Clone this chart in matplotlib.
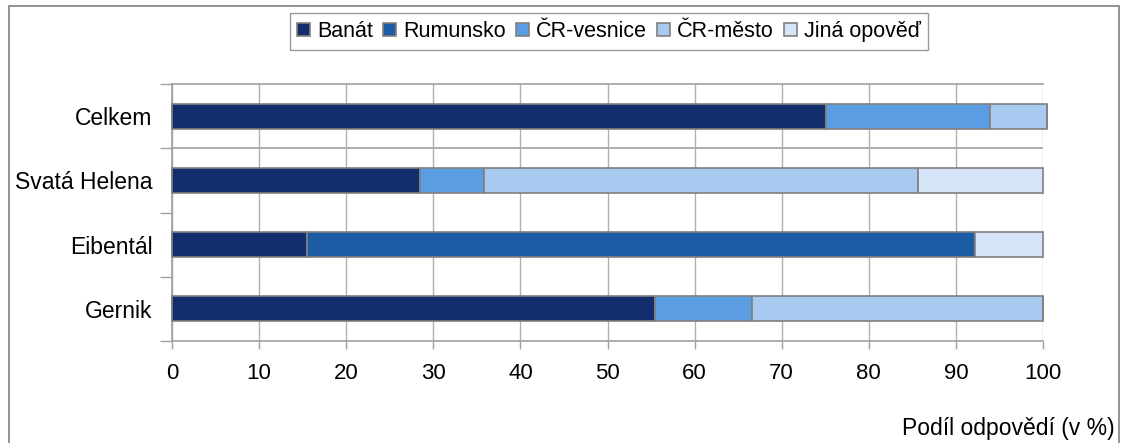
import matplotlib
matplotlib.use("Agg")
import matplotlib.pyplot as plt
from matplotlib.patches import Rectangle
import numpy as np

plt.rcParams['font.family'] = ['Liberation Sans', 'DejaVu Sans']

categories = ["Gernik", "Eibentál", "Svatá Helena", "Celkem"]
series = ["Banát", "Rumunsko", "ČR-vesnice", "ČR-město", "Jiná opověď"]
banat = [55.5, 15.5, 28.5, 75.1]
rumunsko = [0.0, 76.7, 0.0, 0.0]
cr_vesnice = [11.1, 0.0, 7.3, 18.8]
cr_mesto = [33.4, 0.0, 49.8, 6.6]
jina = [0.0, 7.8, 14.4, 0.0]
xticks = [0, 10, 20, 30, 40, 50, 60, 70, 80, 90, 100]
colors = ["#132d6d", "#1c5ca4", "#5b9de3", "#a8c9f0", "#d6e5f8"]

W, H = 1123, 443
fig = plt.figure(figsize=(W / 100, H / 100), dpi=100)
ax = fig.add_axes([172 / W, 1 - 341 / H, (1043 - 172) / W, (341 - 84) / H])

y = np.arange(len(categories))
left = np.zeros(len(categories))
data = [banat, rumunsko, cr_vesnice, cr_mesto, jina]
for name, vals, c in zip(series, data, colors):
    vals = np.array(vals)
    ax.barh(y, vals, left=left, height=0.39, color=c, edgecolor="#808080",
            linewidth=1.2, label=name, zorder=3, clip_on=False)
    left += vals

ax.set_xlim(0, 100)
ax.set_ylim(-0.5, len(categories) - 0.5)
ax.set_xticks(xticks)
ax.set_xticklabels([str(t) for t in xticks], fontsize=16)
ax.set_yticks(y)
ax.set_yticklabels(categories, fontsize=16.5)
ax.tick_params(axis='y', length=0, pad=14)
ax.set_yticks(np.arange(-0.5, len(categories)), minor=True)
ax.tick_params(axis='y', which='minor', length=9, color="#a0a0a0", width=1)
ax.tick_params(axis='x', length=6, color="#a0a0a0", width=1, pad=10)
ax.grid(axis='x', color="#b0b0b0", linewidth=1, zorder=0)
ax.axhline(2.5, color="#a0a0a0", linewidth=1.2, zorder=1)

for s in ["left", "bottom", "top"]:
    ax.spines[s].set_color("#a0a0a0")
    ax.spines[s].set_linewidth(1.2)
ax.spines["right"].set_visible(False)

fig.text(1115 / W, 1 - 428 / H, "Podíl odpovědí (v %)", ha="right", va="center", fontsize=16.5)

leg = fig.legend(loc="center", bbox_to_anchor=(609 / W, 1 - 31.5 / H), ncol=5,
                 fontsize=15.5, frameon=True, fancybox=False, handlelength=0.6,
                 handleheight=0.6, handletextpad=0.3, columnspacing=0.5,
                 borderpad=0.35, borderaxespad=0)
leg.get_frame().set_edgecolor("#808080")
leg.get_frame().set_linewidth(1)

fig.patches.append(Rectangle((9 / W, -0.01), (1119 - 9) / W, 1 - 6 / H + 0.01,
                             transform=fig.transFigure, fill=False,
                             edgecolor="#808080", linewidth=1.2))

fig.savefig("out.png", dpi=100)
